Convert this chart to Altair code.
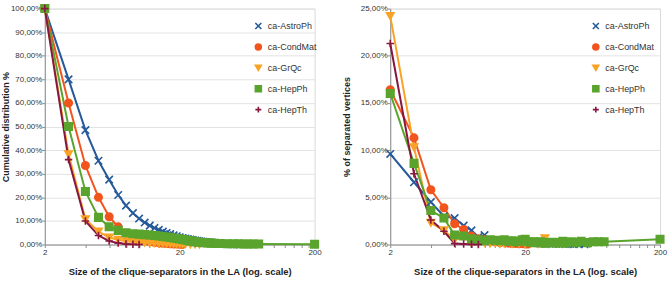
import altair as alt
import pandas as pd

SERIES = ["ca-AstroPh", "ca-CondMat", "ca-GrQc", "ca-HepPh", "ca-HepTh"]
COLORS = ["#24599A", "#F2541E", "#F8A326", "#5AA42D", "#87173F"]
SHAPES = [
    "M-1,-1L1,1M-1,1L1,-1",  # x
    "circle",
    "triangle-down",
    "square",
    "M-1,0L1,0M0,-1L0,1",    # plus
]
FONT = "Liberation Sans, Arial, sans-serif"
X_TITLE = "Size of the clique-separators in the LA (log. scale)"
X_TICKS = [2, 4, 6, 8, 10, 12, 14, 16, 18, 20,
           40, 60, 80, 100, 120, 140, 160, 180, 200]

# ---- cumulative distribution (%) of clique-separator sizes ----
cum_astro_size = list(range(2, 41)) + [42, 44, 46, 48, 50, 53, 56]
cum_astro_val = [100, 70, 48.5, 35.5, 27.5, 21, 16.5, 13.3, 11, 9.3,
                 8, 7, 6.2, 5.5, 4.9, 4.4, 3.9, 3.5, 3.1, 2.8,
                 2.5, 2.3, 2.1, 1.9, 1.7, 1.55, 1.4, 1.3, 1.2, 1.1,
                 1.0, 0.9, 0.82, 0.75, 0.68, 0.62, 0.56, 0.5, 0.45,
                 0.38, 0.3, 0.24, 0.18, 0.13, 0.08, 0.04]

cum_cond_size = list(range(2, 22))
cum_cond_val = [100, 60, 33.5, 20, 11.8, 7.5, 4.8, 3.1, 2.3, 1.6,
                1.2, 0.9, 0.7, 0.55, 0.45, 0.35, 0.25, 0.2, 0.12, 0.05]

cum_grqc_size = list(range(2, 23)) + [24, 26, 28]
cum_grqc_val = [100, 38.3, 10.7, 5.5, 3.0, 2.0, 1.4, 1.1, 0.9, 0.75,
                0.62, 0.52, 0.45, 0.38, 0.32, 0.27, 0.23, 0.2, 0.17, 0.14,
                0.12, 0.09, 0.06, 0.03]

cum_hepph_size = list(range(2, 29)) + [30, 32, 34, 36, 38, 40, 45, 50,
                                       55, 60, 65, 70, 77, 200]
cum_hepph_val = [100, 50, 22.5, 11.5, 7.5, 6.0, 5.0, 4.6, 4.4, 4.2,
                 4.0, 3.8, 3.6, 3.4, 3.2, 3.0, 2.8, 2.55, 2.3, 2.1,
                 1.9, 1.7, 1.5, 1.35, 1.2, 1.1, 1.0, 0.8, 0.7, 0.6,
                 0.5, 0.45, 0.4, 0.35, 0.3, 0.3, 0.25, 0.25, 0.2, 0.2,
                 0.15, 0.1]

cum_hepth_size = list(range(2, 11))
cum_hepth_val = [100, 36, 10, 3.8, 1.5, 0.6, 0.25, 0.1, 0.03]

# ---- share (%) of separated vertices by clique-separator size ----
sep_astro_size = list(range(2, 31)) + [32, 34, 36, 38, 40, 43, 46, 50, 55]
sep_astro_val = [9.6, 6.6, 4.5, 3.0, 2.8, 2.0, 1.5, 0.8, 1.0, 0.5,
                 0.45, 0.4, 0.35, 0.4, 0.3, 0.3, 0.25, 0.3, 0.2, 0.25,
                 0.2, 0.15, 0.2, 0.15, 0.1, 0.15, 0.1, 0.1, 0.12,
                 0.08, 0.1, 0.06, 0.08, 0.05, 0.06, 0.04, 0.05, 0.03]

sep_cond_size = list(range(2, 22))
sep_cond_val = [16.4, 11.3, 5.8, 3.9, 2.2, 1.6, 0.9, 0.6, 0.5, 0.35,
                0.3, 0.2, 0.25, 0.15, 0.1, 0.12, 0.08, 0.1, 0.05, 0.05]

sep_grqc_size = list(range(2, 15)) + [16, 18, 20, 22, 25, 28, 30]
sep_grqc_val = [24.2, 10.3, 2.3, 1.5, 0.5, 0.8, 0.2, 0.15, 0.2, 0.1,
                0.15, 0.05, 0.1, 0.05, 0.1, 0.05, 0.1, 0.05, 0.65, 0.05]

sep_hepph_size = list(range(2, 29)) + [30, 32, 34, 36, 38, 40, 44, 48,
                                       52, 58, 64, 70, 77, 200]
sep_hepph_val = [16.0, 8.6, 3.6, 2.8, 1.0, 0.9, 0.6, 0.5, 0.4, 0.5,
                 0.45, 0.4, 0.5, 0.35, 0.4, 0.3, 0.35, 0.5, 0.55, 0.3,
                 0.25, 0.3, 0.2, 0.25, 0.3, 0.2, 0.15, 0.2, 0.25, 0.15,
                 0.2, 0.35, 0.15, 0.3, 0.2, 0.35, 0.2, 0.3, 0.3, 0.3,
                 0.55]

sep_hepth_size = list(range(2, 10))
sep_hepth_val = [21.3, 7.5, 2.6, 1.4, 0.1, 0.05, 0.02, 0.0]


def frame(pairs):
    rows = []
    for name, sizes, vals in zip(SERIES, pairs[0::2], pairs[1::2]):
        rows += [{"series": name, "size": s, "value": v}
                 for s, v in zip(sizes, vals)]
    return pd.DataFrame(rows)


cum_df = frame([cum_astro_size, cum_astro_val, cum_cond_size, cum_cond_val,
                cum_grqc_size, cum_grqc_val, cum_hepph_size, cum_hepph_val,
                cum_hepth_size, cum_hepth_val])
sep_df = frame([sep_astro_size, sep_astro_val, sep_cond_size, sep_cond_val,
                sep_grqc_size, sep_grqc_val, sep_hepph_size, sep_hepph_val,
                sep_hepth_size, sep_hepth_val])

color_scale = alt.Scale(domain=SERIES, range=COLORS)
shape_scale = alt.Scale(domain=SERIES, range=SHAPES)


def legend(lx, ly):
    return alt.Legend(
        title=None, orient="none", legendX=lx, legendY=ly, padding=0,
        labelFontSize=9, labelColor="#333333", rowPadding=8,
        labelOffset=5, symbolSize=36, symbolStrokeWidth=1.6,
    )


def panel(df, ymax, ystep, ytitle, ytitle_pad, lx, ly):
    x = alt.X(
        "size:Q",
        scale=alt.Scale(type="log", domain=[2, 200]),
        axis=alt.Axis(
            values=X_TICKS,
            labelExpr="indexof([2, 20, 200], datum.value) >= 0 ? datum.value : ''",
            labelOverlap=False, labelFlush=False, grid=False,
            tickSize=3, labelPadding=1, titlePadding=10,
        ),
        title=X_TITLE,
    )
    yvals = [round(i * ystep, 4) for i in range(int(round(ymax / ystep)) + 1)]
    y = alt.Y(
        "value:Q",
        scale=alt.Scale(domain=[0, ymax], nice=False),
        axis=alt.Axis(
            values=yvals,
            labelExpr="replace(format(datum.value, '.2f'), '.', ',') + '%'",
            tickSize=3, labelPadding=0, titlePadding=ytitle_pad,
        ),
        title=ytitle,
    )
    stroke = alt.Stroke("series:N", scale=color_scale, legend=legend(lx, ly))
    lines = alt.Chart(df).mark_line(strokeWidth=2).encode(
        x=x, y=y, stroke=stroke, order="size:Q",
    )
    points = alt.Chart(df).mark_point(size=56, strokeWidth=1.6, opacity=1).encode(
        x=x, y=y,
        fill=alt.Fill("series:N", scale=color_scale, legend=legend(lx, ly)),
        stroke=stroke,
        shape=alt.Shape("series:N", scale=shape_scale, legend=legend(lx, ly)),
    )
    return alt.layer(lines, points).properties(width=271, height=237)


left = panel(cum_df, 100, 10, "Cumulative distribution %", 0, 210, 13)
right = panel(sep_df, 25, 5, "% of separated vertices", 9, 202, 13)

chart = (
    alt.hconcat(left, right, spacing=19)
    .resolve_scale(fill="independent", stroke="independent",
                   shape="independent")
    .properties(padding={"left": 0, "top": 0, "right": 0, "bottom": 0})
    .configure(font=FONT)
    .configure_view(stroke="#D9D9D9", strokeWidth=1)
    .configure_axis(
        labelFontSize=8, labelColor="#333333",
        titleFontSize=9, titleFontWeight="bold", titleColor="#222222",
        domainColor="#8C8C8C", tickColor="#8C8C8C", gridColor="#E2E2E2",
    )
    .configure_axisX(titleFontSize=9.5)
)

chart.save("out.html", embed_options={"renderer": "svg", "actions": False})
